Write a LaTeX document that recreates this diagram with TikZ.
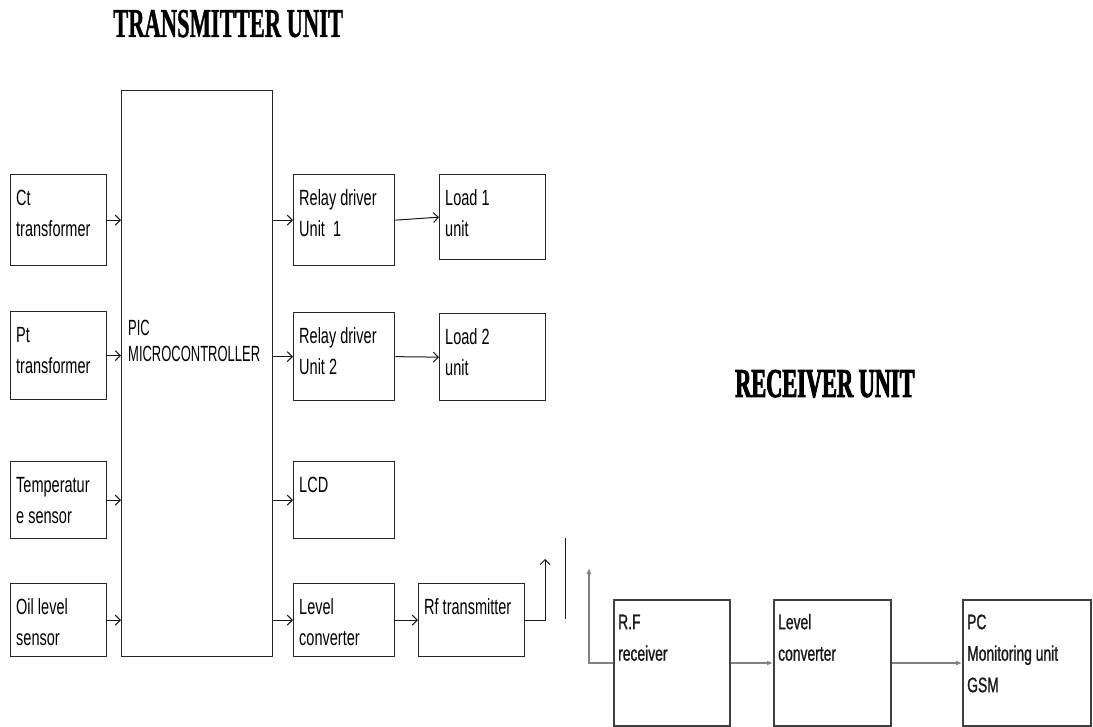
\documentclass[tikz,border=0pt]{standalone}
\usepackage{fontspec}
\usetikzlibrary{arrows.meta}
\newfontfamily\bxfont[FakeStretch=0.66]{Liberation Sans}
\newfontfamily\picfont[FakeStretch=0.59]{Liberation Sans}
\newfontfamily\rxfont[FakeStretch=0.66,FakeBold=1]{Liberation Sans}
\newfontfamily\ttlfont[FakeStretch=0.55,FakeBold=0.8]{Liberation Serif}
\newfontfamily\rxttlfont[FakeStretch=0.545,FakeBold=2]{Liberation Serif}
\begin{document}
\begin{tikzpicture}[x=1pt,y=-1pt,
  tbox/.style={draw=black!85, line width=1.3pt, anchor=north west, inner sep=0pt},
  rbox/.style={draw=black!75, line width=2pt, anchor=north west, inner sep=0pt},
  lbl/.style={anchor=north west, inner sep=0pt, align=left,
    font=\bxfont\fontsize{22}{31}\selectfont, xshift=6pt, yshift=-14pt},
  piclbl/.style={anchor=north west, inner sep=0pt, align=left,
    font=\picfont\fontsize{22}{26}\selectfont, xshift=7pt, yshift=-228pt},
  rlbl/.style={anchor=north west, inner sep=0pt, align=left, text=black!90,
    font=\rxfont\fontsize{21}{31.5}\selectfont, xshift=5pt, yshift=-13pt},
  arr/.style={draw=black!90, line width=1pt, -{Straight Barb[length=5pt,width=10pt]}},
  garr/.style={draw=black!50, line width=1.8pt, -{Latex[length=6pt,width=5pt]}},
  plain/.style={draw=black!90, line width=1pt}
]
\useasboundingbox (0,0) rectangle (1093,727);

% titles
\node[anchor=base west, inner sep=0pt, font=\ttlfont\bfseries\fontsize{41}{41}\selectfont]
  (ttx) at (113,37) {TRANSMITTER UNIT};
\node[anchor=base west, inner sep=0pt, font=\rxttlfont\bfseries\fontsize{41}{41}\selectfont]
  (trx) at (735,397) {RECEIVER UNIT};

% transmitter inputs
\node[tbox, minimum width=96pt, minimum height=91pt,
  label={[lbl]north west:{\rule{0pt}{17pt}Ct\\transformer}}] (ct) at (10,174) {};
\node[tbox, minimum width=96pt, minimum height=88pt,
  label={[lbl]north west:{\rule{0pt}{17pt}Pt\\transformer}}] (pt) at (10,311) {};
\node[tbox, minimum width=96pt, minimum height=77pt,
  label={[lbl]north west:{\rule{0pt}{17pt}Temperatur\\e sensor}}] (temp) at (10,461) {};
\node[tbox, minimum width=96pt, minimum height=73pt,
  label={[lbl]north west:{\rule{0pt}{17pt}Oil level\\sensor}}] (oil) at (10,583) {};

% PIC
\node[tbox, minimum width=151pt, minimum height=566pt,
  label={[piclbl]north west:{\rule{0pt}{17pt}PIC\\MICROCONTROLLER}}] (pic) at (121,90) {};

% outputs
\node[tbox, minimum width=101pt, minimum height=91pt,
  label={[lbl]north west:{\rule{0pt}{17pt}Relay driver\\Unit\ \ 1}}] (rel1) at (293,174) {};
\node[tbox, minimum width=106pt, minimum height=85pt,
  label={[lbl]north west:{\rule{0pt}{17pt}Load 1\\unit}}] (load1) at (439,174) {};
\node[tbox, minimum width=101pt, minimum height=88pt,
  label={[lbl]north west:{\rule{0pt}{17pt}Relay driver\\Unit 2}}] (rel2) at (293,312) {};
\node[tbox, minimum width=106pt, minimum height=87pt,
  label={[lbl]north west:{\rule{0pt}{17pt}Load 2\\unit}}] (load2) at (439,313) {};
\node[tbox, minimum width=101pt, minimum height=77pt,
  label={[lbl]north west:{\rule{0pt}{17pt}LCD}}] (lcd) at (293,461) {};
\node[tbox, minimum width=101pt, minimum height=73pt,
  label={[lbl]north west:{\rule{0pt}{17pt}Level\\converter}}] (lvl) at (293,583) {};
\node[tbox, minimum width=106pt, minimum height=73pt,
  label={[lbl]north west:{\rule{0pt}{17pt}Rf transmitter}}] (rft) at (418,583) {};

% receiver
\node[rbox, minimum width=116pt, minimum height=126pt,
  label={[rlbl]north west:{\rule{0pt}{17pt}R.F\\receiver}}] (rfr) at (613,599) {};
\node[rbox, minimum width=117pt, minimum height=126pt,
  label={[rlbl]north west:{\rule{0pt}{17pt}Level\\converter}}] (lvr) at (773,599) {};
\node[rbox, minimum width=128pt, minimum height=126pt,
  label={[rlbl]north west:{\rule{0pt}{17pt}PC\\Monitoring unit\\GSM}}] (pc) at (962,599) {};

% coordinates
\coordinate (txant) at (545,559);
\coordinate (ant1) at (565,538);
\coordinate (ant2) at (565,619);
\coordinate (rxant) at (589,568);

% connectors
\draw[arr] (ct.east) -- (ct.east -| pic.west);
\draw[arr] (pt.east) -- (pt.east -| pic.west);
\draw[arr] (temp.east) -- (temp.east -| pic.west);
\draw[arr] (oil.east) -- (oil.east -| pic.west);
\draw[arr] (rel1.west -| pic.east) -- (rel1.west);
\draw[arr] (rel2.west -| pic.east) -- (rel2.west);
\draw[arr] (lcd.west -| pic.east) -- (lcd.west);
\draw[arr] (lvl.west -| pic.east) -- (lvl.west);
\draw[arr] (rel1.east) -- (load1.west);
\draw[arr] (rel2.east) -- (load2.west);
\draw[arr] (lvl.east) -- (rft.west);
\draw[arr] (rft.east) -| (txant);
\draw[plain] (ant1) -- (ant2);

\draw[garr] (rfr.west) -| (rxant);
\draw[garr] (rfr.east) -- (lvr.west);
\draw[garr] (lvr.east) -- (pc.west);
\end{tikzpicture}
\end{document}
